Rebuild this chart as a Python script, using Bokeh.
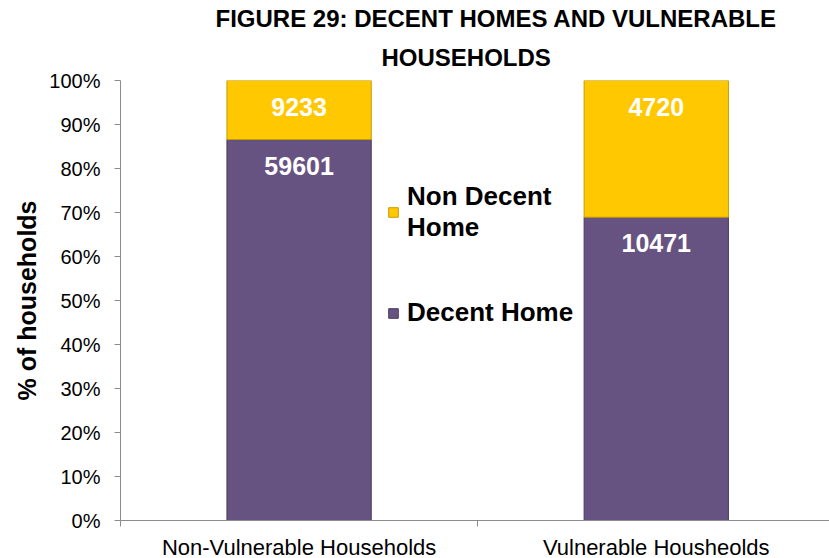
import numpy as np
from bokeh.plotting import figure
from bokeh.models import (ColumnDataSource, Range1d, FixedTicker, NumeralTickFormatter,
                          Legend, LegendItem, LabelSet, Title)
from bokeh.core.properties import value
from bokeh.embed import file_html
from bokeh.resources import INLINE

categories = ["Non-Vulnerable Households", "Vulnerable Housheolds"]
decent = [59601, 10471]
non_decent = [9233, 4720]
series_names = ["Decent Home", "Non Decent\nHome"]
colors = ["#675382", "#FFC800"]
title_lines = ["FIGURE 29: DECENT HOMES AND VULNERABLE", "HOUSEHOLDS"]

x = np.arange(len(categories)) + 0.5
tot = np.array(decent) + np.array(non_decent)
d_frac = np.array(decent) / tot
n_frac = np.array(non_decent) / tot

src = ColumnDataSource(dict(
    x=x, d0=np.zeros(len(x)), d1=d_frac, n0=d_frac, n1=d_frac + n_frac,
    dlab=[str(v) for v in decent], nlab=[str(v) for v in non_decent],
))

FONT = "Liberation Sans"
p = figure(width=829, frame_height=440, output_backend="svg", toolbar_location=None,
           x_range=Range1d(0, 1.985), y_range=Range1d(0, 1),
           min_border_left=120, min_border_right=0, min_border_top=80, min_border_bottom=10)
p.title.text = title_lines[0]
p.title.align = "left"
p.title.offset = 95
p.title.text_font = FONT
p.title.text_font_size = "24px"
p.title.text_font_style = "bold"
p.title.text_color = "black"
p.title.text_line_height = 0.85
p.title.standoff = 0
p.add_layout(Title(text=title_lines[1], align="left", offset=261, text_font=FONT,
                   text_font_size="24px", text_font_style="bold", text_color="black",
                   standoff=20), "above")

p.outline_line_color = None
p.xgrid.grid_line_color = None
p.ygrid.grid_line_color = None

rd = p.vbar(x="x", bottom="d0", top="d1", width=0.404, source=src,
            fill_color=colors[0], line_color="#4a3a5e", line_width=1)
rn = p.vbar(x="x", bottom="n0", top="n1", width=0.404, source=src,
            fill_color=colors[1], line_color="#c99a00", line_width=1)

for col_y, col_t in [("d1", "dlab"), ("n1", "nlab")]:
    p.add_layout(LabelSet(x="x", y=col_y, text=col_t, source=src, text_align="center",
                          text_baseline="top", y_offset=-17, text_color="white",
                          text_font=value(FONT), text_font_style="bold",
                          text_font_size="25px"))

# y axis
ya = p.yaxis[0]
ya.ticker = FixedTicker(ticks=list(np.round(np.arange(0, 1.01, 0.1), 2)))
ya.formatter = NumeralTickFormatter(format="0%")
ya.axis_label = "% of households"
ya.axis_label_text_font = FONT
ya.axis_label_text_font_style = "bold"
ya.axis_label_text_font_size = "25px"
ya.axis_label_text_color = "black"
ya.major_label_text_font = FONT
ya.major_label_text_font_size = "20px"
ya.major_label_text_color = "black"
ya.major_tick_in = 0
ya.major_tick_out = 6
ya.minor_tick_line_color = None
ya.axis_line_color = "#8c8c8c"
ya.major_tick_line_color = "#8c8c8c"
ya.major_label_standoff = 14

# x axis
xa = p.xaxis[0]
xa.ticker = FixedTicker(ticks=list(x), minor_ticks=[0, 1, 2])
xa.major_label_overrides = {float(v): c for v, c in zip(x, categories)}
xa.major_label_text_font = FONT
xa.major_label_text_font_size = "22px"
xa.major_label_text_color = "black"
xa.major_tick_line_color = None
xa.minor_tick_in = 0
xa.minor_tick_out = 6
xa.minor_tick_line_color = "#8c8c8c"
xa.axis_line_color = "#8c8c8c"
xa.major_label_standoff = 8

legend = Legend(items=[LegendItem(label=series_names[1], renderers=[rn]),
                       LegendItem(label=series_names[0], renderers=[rd])],
                location=(267, 192))
legend.background_fill_alpha = 0
legend.border_line_color = None
legend.label_text_font = FONT
legend.label_text_font_style = "bold"
legend.label_text_font_size = "26px"
legend.label_text_color = "black"
legend.label_text_line_height = 1.2
legend.glyph_width = 12
legend.glyph_height = 12
legend.label_standoff = 8
legend.spacing = 54
p.add_layout(legend)

open("out.html", "w").write(file_html(p, INLINE))
